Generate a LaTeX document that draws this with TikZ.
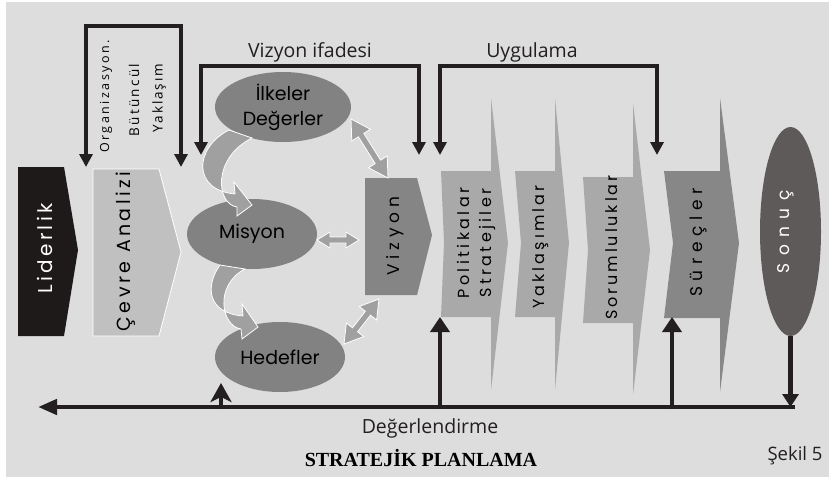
\documentclass[tikz,border=0pt]{standalone}
\usepackage{fontspec}
\setmainfont{Open Sans}
\newfontfamily\geo{Poppins}
\newfontfamily\serifb{Liberation Serif}
\usetikzlibrary{arrows.meta,shapes.geometric,calc}
\definecolor{bgc}{HTML}{DDDDDD}
\definecolor{ink}{HTML}{231F20}
\definecolor{lider}{HTML}{1E1A1A}
\definecolor{cevre}{HTML}{C0C0C0}
\definecolor{ell}{HTML}{828282}
\definecolor{viz}{HTML}{858585}
\definecolor{arrg}{HTML}{A0A0A0}
\definecolor{chev}{HTML}{A9A9A9}
\definecolor{surec}{HTML}{878787}
\definecolor{sonuc}{HTML}{5E5A5A}
\newcommand\gtext[2]{\geo\fontsize{#1}{#1}\selectfont\addfontfeatures{LetterSpace=#2}}
\newcommand\otext[2]{\fontsize{#1}{#1}\selectfont\addfontfeatures{LetterSpace=#2}}
\newcommand\dblarr[5]{%
  \path let \p1=(#1), \p2=(#2) in \pgfextra{%
    \pgfmathsetmacro\daang{atan2(\y2-\y1,\x2-\x1)}%
    \pgfmathsetmacro\dalen{veclen(\x2-\x1,\y2-\y1)}%
    \global\let\daang\daang \global\let\dalen\dalen};
  \filldraw[dblstyle, shift={(#1)}, rotate=\daang]
    (0pt,0pt) -- (#3pt,#4pt) -- (#3pt,#5pt) -- ({\dalen pt-#3pt},#5pt)
    -- ({\dalen pt-#3pt},#4pt) -- (\dalen pt,0pt) -- ({\dalen pt-#3pt},-#4pt)
    -- ({\dalen pt-#3pt},-#5pt) -- (#3pt,-#5pt) -- (#3pt,-#4pt) -- cycle;
}
\tikzset{
  ln/.style={draw=ink, line width=4pt},
  bl/.style={draw=ink, line width=4.5pt},
  twotips/.style={{Triangle[length=13pt,width=13pt]}-{Triangle[length=13pt,width=13pt]}},
  uptip/.style={-{Triangle[length=15pt,width=19pt]}},
  dblstyle/.style={fill=arrg, draw=white, line width=0.8pt, line join=miter},
  curv/.style={fill=arrg, draw=white, line width=0.8pt},
  ellnode/.style={ellipse, fill=ell, inner sep=0pt, text=black},
  chevshape/.style={fill=chev},
  blab/.style={font=\otext{19.5}{0}, text=ink, anchor=base, inner sep=0pt},
}
\begin{document}
\begin{tikzpicture}[x=1pt, y=-1pt]
\useasboundingbox (0,0) rectangle (829,477);
\fill[white] (0,0) rectangle (829,477);
\fill[bgc] (6,2) rectangle (829,477);

% connector end points
\coordinate (orgL) at (86,167);
\coordinate (orgR) at (181,167);
\coordinate (vifL) at (201,155);
\coordinate (vifR) at (419,155);
\coordinate (uygL) at (440,155);
\coordinate (uygR) at (657,155);
\coordinate (fbR) at (795,407);
\coordinate (fbL) at (38,407);
\coordinate (fbP) at (440,409);
\coordinate (fbS) at (672,409);
\coordinate (fbH) at (221,409);
\coordinate (polB) at (440,317);
\coordinate (surB) at (672,317);
\coordinate (hedB) at (221,383);

% Liderlik
\fill[lider] (18,167) -- (64,167) -- (78,250) -- (64,336) -- (18,336) -- cycle;
\node[rotate=90, text=white, font=\gtext{20}{17}] (lid) at (44.5,248.5) {Liderlik};

% Cevre Analizi
\filldraw[fill=cevre, draw=white, line width=0.8pt] (93,169) -- (159,169) -- (181,252) -- (159,336) -- (93,336) -- cycle;
\node[rotate=90, text=black, font=\gtext{19}{18}] (cev) at (126,251.5) {Çevre Analizi};

% Organizasyon labels
\node[rotate=90, text=black, font=\otext{12.5}{20}] (org1) at (106,96.5) {Organizasyon.};
\node[rotate=90, text=black, font=\otext{13.5}{17}] (org2) at (134,100) {Bütüncül};
\node[rotate=90, text=black, font=\otext{13.5}{14}] (org3) at (159,98) {Yaklaşım};

% Vizyon
\fill[viz] (365,178) -- (417,178) -- (432,235) -- (417,295) -- (365,295) -- cycle;
\node[rotate=90, text=black, font=\gtext{17}{28}] (viz) at (395.5,236) {Vizyon};
\coordinate (vizT) at (388,178);
\coordinate (vizL) at (359,240);
\coordinate (vizB) at (379,299);

% chevrons
\fill[chev] (441,171) -- (491,171) -- (491,98) -- (508,243) -- (491,390) -- (491,317) -- (441,317) -- (444,243) -- cycle;
\fill[chev] (515,171) -- (555,171) -- (555,98) -- (569,243) -- (555,390) -- (555,317) -- (515,317) -- (521,243) -- cycle;
\fill[chev] (583,177) -- (633,177) -- (633,103) -- (650,250) -- (633,395) -- (633,323) -- (583,323) -- (588,250) -- cycle;
\fill[surec] (664,171) -- (720,171) -- (720,98) -- (739,243) -- (720,392) -- (720,318) -- (664,318) -- (673,243) -- cycle;
\node[rotate=90, text=black, align=center, font=\geo\fontsize{16}{22}\selectfont\addfontfeatures{LetterSpace=21}] (pol) at (476,243) {Politikalar\\Stratejiler};
\node[rotate=90, text=black, font=\gtext{16}{19}] (yak) at (540.5,247) {Yaklaşımlar};
\node[rotate=90, text=black, font=\gtext{16}{18}] (sor) at (611.5,247.5) {Sorumluluklar};
\node[rotate=90, text=black, font=\gtext{17}{33}] (sur) at (698.5,242.5) {Süreçler};

% Sonuc
\node[ellipse, rotate=90, fill=sonuc, minimum width=209pt, minimum height=61pt, inner sep=0pt] (son) at (790.5,231.5) {};
\node[rotate=90, text=white, font=\gtext{17}{44}] (sont) at (786,232) {Sonuç};

% ellipses
\node[ellnode, minimum width=136pt, minimum height=70pt, align=center, font=\geo\fontsize{19}{25}\selectfont] (ilk) at (283,107) {İlkeler\\Değerler};
\node[ellnode, minimum width=130pt, minimum height=70pt, font=\geo\fontsize{19}{25}\selectfont] (mis) at (252,234) {Misyon};
\node[ellnode, minimum width=130pt, minimum height=70pt, font=\geo\fontsize{19}{25}\selectfont] (hed) at (280,357) {Hedefler};

% curved arrows
\filldraw[curv] (229,130) .. controls (194,148) and (192,190) .. (235,194) -- (234,182) -- (252,205) -- (237,216) -- (237,207) .. controls (216,204) and (212,158) .. (252,138) -- cycle;
\filldraw[curv] (220,265) .. controls (205,286) and (207,313) .. (243,316) -- (242,304) -- (258,327) -- (242,339) -- (241,329) .. controls (221,326) and (214,285) .. (245,269) -- cycle;

% double arrows
\coordinate (ilkR) at (351,119);
\coordinate (misR) at (317,240);
\coordinate (hedR) at (344,344);
\dblarr{ilkR}{vizT}{19}{11}{3.2}
\dblarr{misR}{vizL}{13}{8}{3}
\dblarr{hedR}{vizB}{18}{11}{3.2}

% brackets
\draw[ln, twotips] (orgL) -- ++(0,-141) -| (orgR);
\draw[ln, twotips] (vifL) -- ++(0,-89) -| (vifR);
\draw[ln, twotips] (uygL) -- ++(0,-89) -| (uygR);
\node[blab] (vifl) at (310,57) {Vizyon ifadesi};
\node[blab] (uygl) at (532,57) {Uygulama};

% feedback
\draw[bl, -{Triangle[length=13pt,width=16pt]}] (son.west) -- (son.west |- fbR);
\draw[bl, -{Triangle[length=19pt,width=15pt]}] (fbR) -- (fbL);
\draw[bl, uptip] (fbP) -- (polB);
\draw[bl, uptip] (fbS) -- (surB);
\draw[bl, -{Stealth[length=19pt,width=21pt,inset=5pt]}] (fbH) -- (hedB);
\node[blab] (deg) at (430,433) {Değerlendirme};

\node[anchor=base, inner sep=0pt, text=black, font=\serifb\bfseries\fontsize{20}{20}\selectfont] (title) at (421,466) {STRATEJİK PLANLAMA};
\node[anchor=base, inner sep=0pt, text=ink, font=\otext{18.5}{0}] (sek) at (795,460) {Şekil 5};
\end{tikzpicture}
\end{document}
